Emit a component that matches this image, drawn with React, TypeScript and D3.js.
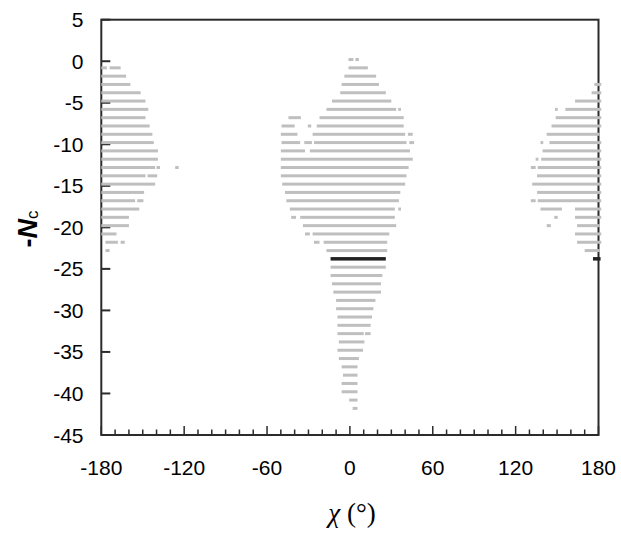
import React from "react";
import * as d3 from "d3";

const W = 621;
const H = 533;

// x: torsion angle chi (degrees), y: -Nc
const xDomain: [number, number] = [-180, 180];
const yDomain: [number, number] = [5, -45];
const xMajorTicks = [-180, -120, -60, 0, 60, 120, 180];
const yMajorTicks = [5, 0, -5, -10, -15, -20, -25, -30, -35, -40, -45];

// [ -Nc , chi start , chi end ]
type Seg = [number, number, number];

const leftCluster: Seg[] = [
  [-1, -180, -176], [-1, -174, -166],
  [-2, -180, -162],
  [-3, -180, -159],
  [-4, -180, -151.5],
  [-5, -180, -148],
  [-6, -180, -146],
  [-7, -180, -148],
  [-8, -180, -145],
  [-9, -180, -143],
  [-10, -180, -142],
  [-11, -180, -139],
  [-12, -180, -139],
  [-13, -180, -141], [-13, -140, -137.5], [-13, -126.5, -124],
  [-14, -180, -148], [-14, -146.5, -139.5],
  [-15, -180, -141],
  [-16, -180, -149],
  [-17, -180, -155.5], [-17, -154, -149.5],
  [-18, -180, -152.5],
  [-19, -180, -160],
  [-20, -180, -160],
  [-21, -180, -169],
  [-22, -177, -168], [-22, -166, -163],
  [-23, -177, -174],
];

const centerCluster: Seg[] = [
  [0, -1, 2.5], [0, 4, 6.5],
  [-1, -1, 13],
  [-2, -4, 19],
  [-3, -6, 21],
  [-4, -7, 26],
  [-5, -13, 30],
  [-6, -17, 33.5], [-6, 35, 37],
  [-7, -44.5, -35.5], [-7, -22, 39],
  [-8, -49.5, -40], [-8, -30.5, -28], [-8, -24, 39],
  [-9, -50, -38], [-9, -27, 40], [-9, 42, 45.5],
  [-10, -49.5, -36], [-10, -33, -27.5], [-10, -26, 41], [-10, 43, 46.5],
  [-11, -50, -32.5], [-11, -29, 43.5],
  [-12, -50, 45.5],
  [-13, -50, 42.5],
  [-14, -50, 41],
  [-15, -49, 40],
  [-16, -47, 36.5],
  [-17, -46, 35.5],
  [-18, -43.5, 32.5], [-18, 35, 37],
  [-19, -42.5, -39], [-19, -36, 32.5],
  [-20, -34, 33.5],
  [-21, -32.5, -29], [-21, -27, 28.5],
  [-22, -26, -22], [-22, -19, 27],
  [-23, -17, 27],
  [-25, -14, 26],
  [-26, -14, 23.5],
  [-27, -13, 22.5],
  [-28, -12, 22.5],
  [-29, -10, 18.5],
  [-30, -10, 17],
  [-31, -9, 16],
  [-32, -9, 15],
  [-33, -9, 10], [-33, 11, 15],
  [-34, -8, 10.5],
  [-35, -9, 9.5],
  [-36, -8, 6.5],
  [-37, -6, 5.5],
  [-38, -5, 5.5],
  [-39, -6, 5.5],
  [-40, -6, 5.5],
  [-41, -0.5, 5.5],
  [-42, 2, 5.5],
];

const rightCluster: Seg[] = [
  [-3, 177, 182],
  [-4, 175, 182],
  [-5, 163, 182],
  [-6, 148.5, 150.5], [-6, 156, 182],
  [-7, 149, 182],
  [-8, 146, 182],
  [-9, 142.5, 181],
  [-10, 138, 140], [-10, 144.5, 182],
  [-11, 139.5, 182],
  [-12, 134.5, 136.5], [-12, 138.5, 182],
  [-13, 131, 134.5], [-13, 136, 182],
  [-14, 135.5, 182],
  [-15, 132, 182],
  [-16, 135.5, 182],
  [-17, 131, 134.5], [-17, 136, 182],
  [-18, 138, 153.5], [-18, 163, 182],
  [-19, 148, 150.5], [-19, 163, 182],
  [-20, 142.5, 145.5], [-20, 164.5, 181],
  [-21, 163, 182],
  [-22, 164.5, 182],
  [-23, 170, 181],
];

const highlighted: Seg[] = [
  [-24, -14, 26],
  [-24, 176, 181.5],
];

const FONT = "'Liberation Sans', Arial, sans-serif";
const AXIS = "#2b2b2b";
const GRAY = "#bfbfbf";

export default function App() {
  const plot = { left: 101.3, right: 598.5, top: 19.7, bottom: 435 };
  const x = d3.scaleLinear().domain(xDomain).range([plot.left, plot.right]);
  const y = d3.scaleLinear().domain(yDomain).range([plot.top, plot.bottom]);
  const minorX = d3.range(-170, 180, 10).filter((v) => v % 60 !== 0);

  const grayBars = [...leftCluster, ...centerCluster, ...rightCluster];

  return (
    <svg
      width={W}
      height={H}
      style={{ position: "absolute", left: 0, top: 0, background: "#fff" }}
    >
      <rect x={0} y={0} width={W} height={H} fill="#fff" />
      {/* frame */}
      <rect
        x={plot.left}
        y={plot.top}
        width={plot.right - plot.left}
        height={plot.bottom - plot.top}
        fill="none"
        stroke={AXIS}
        strokeWidth={2}
      />
      {/* y ticks */}
      {yMajorTicks.map((t) => (
        <line
          key={"yt" + t}
          x1={plot.left}
          x2={plot.left + 9}
          y1={y(t)}
          y2={y(t)}
          stroke={AXIS}
          strokeWidth={2}
        />
      ))}
      {/* x ticks */}
      {minorX.map((t) => (
        <line
          key={"xm" + t}
          x1={x(t)}
          x2={x(t)}
          y1={plot.bottom}
          y2={plot.bottom - 5.5}
          stroke={AXIS}
          strokeWidth={1.5}
        />
      ))}
      {xMajorTicks.map((t) => (
        <line
          key={"xM" + t}
          x1={x(t)}
          x2={x(t)}
          y1={plot.bottom}
          y2={plot.bottom - 9}
          stroke={AXIS}
          strokeWidth={1.5}
        />
      ))}
      {/* bars */}
      {grayBars.map(([nc, a, b], i) => (
        <rect
          key={"g" + i}
          x={x(a)}
          width={x(b) - x(a)}
          y={y(nc) - 3.2}
          height={3}
          fill={GRAY}
        />
      ))}
      {highlighted.map(([nc, a, b], i) => (
        <rect
          key={"k" + i}
          x={x(a)}
          width={x(b) - x(a)}
          y={y(nc) - 3.5}
          height={3.5}
          fill="#222222"
        />
      ))}
      {/* y labels */}
      {yMajorTicks.map((t) => (
        <text
          key={"yl" + t}
          x={83.5}
          y={y(t) + 7.5}
          textAnchor="end"
          fontFamily={FONT}
          fontSize={21}
          fill="#000"
        >
          {t}
        </text>
      ))}
      {/* x labels */}
      {xMajorTicks.map((t) => (
        <text
          key={"xl" + t}
          x={x(t)}
          y={475}
          textAnchor="middle"
          fontFamily={FONT}
          fontSize={21}
          fill="#000"
        >
          {t}
        </text>
      ))}
      {/* y title */}
      <text
        transform="translate(37,229) rotate(-90)"
        textAnchor="middle"
        fontFamily={FONT}
        fontSize={27}
        fontWeight="bold"
        fill="#000"
      >
        <tspan>-</tspan>
        <tspan fontStyle="italic">N</tspan>
        <tspan fontSize={17} fontWeight="normal" dy={1}>c</tspan>
      </text>
      {/* x title */}
      <text
        x={352}
        y={522}
        textAnchor="middle"
        fontFamily="'Liberation Serif', 'Times New Roman', serif"
        fontSize={27}
        fill="#000"
      >
        <tspan fontStyle="italic">χ</tspan>
        <tspan> (°)</tspan>
      </text>
    </svg>
  );
}
